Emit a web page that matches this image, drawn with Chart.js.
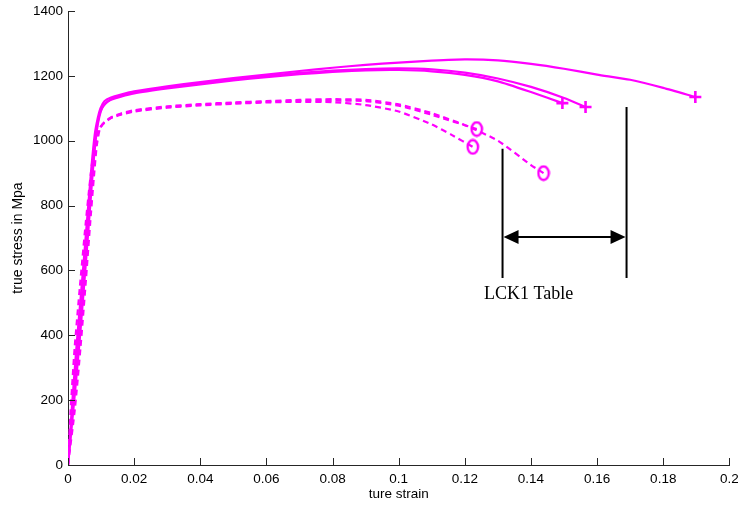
<!DOCTYPE html>
<html>
<head>
<meta charset="utf-8">
<script src="https://cdn.jsdelivr.net/npm/chart.js@4/dist/chart.umd.min.js"></script>
<style>
  html, body { margin: 0; padding: 0; background: #fff; }
  #wrap { width: 738px; height: 506px; }
</style>
</head>
<body>
<div id="wrap"><canvas id="chart" width="738" height="506"></canvas></div>
<script>
// solid curves (end marker +)
const s1Strain = [0, 0.0012, 0.0026, 0.0042, 0.0058, 0.0071, 0.0081, 0.009, 0.0098, 0.011, 0.013, 0.016, 0.02, 0.03, 0.04, 0.05, 0.06, 0.07, 0.08, 0.09, 0.1, 0.11, 0.12, 0.13, 0.14, 0.15, 0.16, 0.17, 0.18, 0.1897];
const s1Stress = [0, 180, 370, 560, 760, 920, 1020, 1070, 1100, 1122, 1133, 1142, 1152, 1168, 1181, 1193, 1204, 1215, 1225, 1234, 1241, 1247, 1251, 1248, 1237, 1222, 1204, 1188, 1163, 1135];
const s2Strain = [0, 0.0018, 0.0035, 0.005, 0.0065, 0.0077, 0.0087, 0.0095, 0.0103, 0.0115, 0.013, 0.016, 0.02, 0.03, 0.04, 0.05, 0.06, 0.07, 0.08, 0.09, 0.1, 0.11, 0.12, 0.13, 0.14, 0.15, 0.1565];
const s2Stress = [0, 190, 380, 570, 770, 930, 1030, 1075, 1100, 1117, 1128, 1139, 1149, 1164, 1177, 1190, 1200, 1209, 1216, 1221, 1223, 1220, 1210, 1192, 1166, 1132, 1104];
const s3Strain = [0, 0.0015, 0.003, 0.0046, 0.0062, 0.0075, 0.0085, 0.0093, 0.0101, 0.0113, 0.013, 0.016, 0.02, 0.03, 0.04, 0.05, 0.06, 0.07, 0.08, 0.09, 0.1, 0.11, 0.12, 0.13, 0.14, 0.1495];
const s3Stress = [0, 185, 375, 565, 765, 925, 1025, 1072, 1098, 1114, 1126, 1136, 1146, 1161, 1174, 1186, 1196, 1205, 1212, 1217, 1218, 1214, 1203, 1183, 1150, 1116];

// dashed curves (end marker o)
const d1Strain = [0, 0.0008, 0.002, 0.0036, 0.0053, 0.0067, 0.0079, 0.009, 0.0104, 0.0127, 0.016, 0.02, 0.03, 0.04, 0.05, 0.06, 0.07, 0.08, 0.09, 0.1, 0.11, 0.116, 0.1224];
const d1Stress = [0, 170, 360, 550, 740, 880, 980, 1030, 1050, 1068, 1080, 1090, 1102, 1109, 1114, 1118, 1120, 1119, 1110, 1090, 1050, 1018, 981];
const d2Strain = [0, 0.0021, 0.0038, 0.0053, 0.0067, 0.0078, 0.0087, 0.0096, 0.0108, 0.013, 0.016, 0.02, 0.03, 0.04, 0.05, 0.06, 0.07, 0.08, 0.09, 0.1, 0.11, 0.12, 0.13, 0.14, 0.1438];
const d2Stress = [0, 175, 365, 555, 745, 885, 985, 1035, 1055, 1072, 1084, 1094, 1106, 1113, 1118, 1122, 1126, 1128, 1126, 1112, 1085, 1048, 1000, 925, 900];
const d3Strain = [0, 0.0013, 0.0029, 0.0045, 0.0061, 0.0073, 0.0083, 0.0093, 0.0106, 0.0128, 0.016, 0.02, 0.03, 0.04, 0.05, 0.06, 0.07, 0.08, 0.09, 0.1, 0.11, 0.1236];
const d3Stress = [0, 172, 362, 552, 742, 882, 982, 1032, 1052, 1070, 1082, 1092, 1104, 1111, 1116, 1120, 1123, 1124, 1122, 1108, 1080, 1036];

// axis ticks
const xTickLabels = ['0', '0.02', '0.04', '0.06', '0.08', '0.1', '0.12', '0.14', '0.16', '0.18', '0.2'];
const yTickLabels = ['0', '200', '400', '600', '800', '1000', '1200', '1400'];

// LCK1 Table annotation (data units)
const tableStrain = [0.1314, 0.1689];
const tableTop = [975, 1104];
const tableBottom = 577;
const arrowStress = 703;
const labelStrain = 0.1393;
const labelStress = 527;

const magenta = '#ff00ff';
const axisColor = '#262626';
const tickFont = { family: 'Liberation Sans, Arial, sans-serif', size: 13.5 };

// matlab-like 'o' marker: a slightly tall ellipse
const ovalMarker = document.createElement('canvas');
ovalMarker.width = 14;
ovalMarker.height = 17;
(function () {
    const c = ovalMarker.getContext('2d');
    c.strokeStyle = magenta;
    c.lineWidth = 2.4;
    c.beginPath();
    c.ellipse(7, 8.5, 5.2, 6.7, 0, 0, Math.PI * 2);
    c.stroke();
})();

function curve(strain, stress, dashed, marker) {
    const pts = strain.map((x, i) => ({ x: x, y: stress[i] }));
    const last = pts.length - 1;
    return {
        data: pts,
        borderColor: magenta,
        borderWidth: 2.2,
        borderDash: dashed ? [6, 4] : [],
        pointStyle: marker,
        pointRadius: ctx => ctx.dataIndex === last ? 6 : 0,
        pointHoverRadius: 0,
        pointBorderColor: magenta,
        pointBackgroundColor: 'rgba(0,0,0,0)',
        pointBorderWidth: 2.6,
        tension: 0.2,
        fill: false
    };
}

// ticks drawn inside the axes, like the original
const inwardTicks = {
    id: 'inwardTicks',
    afterDraw(chart) {
        const { ctx, chartArea, scales: { x, y } } = chart;
        ctx.save();
        ctx.strokeStyle = axisColor;
        ctx.lineWidth = 1;
        ctx.beginPath();
        x.ticks.forEach(t => {
            const px = Math.round(x.getPixelForValue(t.value)) + 0.5;
            ctx.moveTo(px, chartArea.bottom);
            ctx.lineTo(px, chartArea.bottom - 7);
        });
        y.ticks.forEach(t => {
            const py = Math.round(y.getPixelForValue(t.value)) + 0.5;
            ctx.moveTo(chartArea.left, py);
            ctx.lineTo(chartArea.left + 7, py);
        });
        ctx.stroke();
        ctx.restore();
    }
};

const lckTable = {
    id: 'lckTable',
    afterDatasetsDraw(chart) {
        const { ctx, scales: { x, y } } = chart;
        const xl = x.getPixelForValue(tableStrain[0]);
        const xr = x.getPixelForValue(tableStrain[1]);
        const yb = y.getPixelForValue(tableBottom);
        const ya = y.getPixelForValue(arrowStress);
        ctx.save();
        ctx.strokeStyle = '#000';
        ctx.fillStyle = '#000';
        ctx.lineWidth = 2;
        ctx.beginPath();
        ctx.moveTo(xl, y.getPixelForValue(tableTop[0]));
        ctx.lineTo(xl, yb);
        ctx.moveTo(xr, y.getPixelForValue(tableTop[1]));
        ctx.lineTo(xr, yb);
        ctx.moveTo(xl + 10, ya);
        ctx.lineTo(xr - 10, ya);
        ctx.stroke();
        // arrow heads
        ctx.beginPath();
        ctx.moveTo(xl + 1, ya);
        ctx.lineTo(xl + 16, ya - 7);
        ctx.lineTo(xl + 16, ya + 7);
        ctx.closePath();
        ctx.moveTo(xr - 1, ya);
        ctx.lineTo(xr - 16, ya - 7);
        ctx.lineTo(xr - 16, ya + 7);
        ctx.closePath();
        ctx.fill();
        ctx.font = '18px "Liberation Serif", "Times New Roman", serif';
        ctx.textAlign = 'center';
        ctx.textBaseline = 'middle';
        ctx.fillText('LCK1 Table', x.getPixelForValue(labelStrain), y.getPixelForValue(labelStress));
        ctx.restore();
    }
};

new Chart(document.getElementById('chart'), {
    type: 'line',
    data: {
        datasets: [
            curve(s1Strain, s1Stress, false, 'cross'),
            curve(s2Strain, s2Stress, false, 'cross'),
            curve(s3Strain, s3Stress, false, 'cross'),
            curve(d1Strain, d1Stress, true, ovalMarker),
            curve(d2Strain, d2Stress, true, ovalMarker),
            curve(d3Strain, d3Stress, true, ovalMarker)
        ]
    },
    options: {
        responsive: false,
        animation: false,
        layout: { padding: { top: 11, right: 8, left: 0, bottom: 0 } },
        plugins: {
            legend: { display: false },
            tooltip: { enabled: false }
        },
        scales: {
            x: {
                type: 'linear',
                min: 0,
                max: 0.2,
                afterFit: scale => {
                    scale.height = 41;
                    scale.paddingLeft = 0;
                    scale.paddingRight = 0;
                },
                grid: { display: false, drawTicks: false },
                border: { display: true, color: axisColor, width: 1 },
                ticks: {
                    stepSize: 0.02,
                    padding: 6,
                    color: '#000',
                    font: tickFont,
                    maxRotation: 0,
                    autoSkip: false,
                    callback: (v, i) => xTickLabels[i]
                },
                title: {
                    display: true,
                    text: 'ture strain',
                    color: '#000',
                    font: tickFont,
                    padding: { top: 0, bottom: 4 }
                }
            },
            y: {
                min: 0,
                max: 1400,
                afterFit: scale => {
                    scale.width = 68;
                    scale.paddingTop = 0;
                    scale.paddingBottom = 0;
                },
                grid: { display: false, drawTicks: false },
                border: { display: true, color: axisColor, width: 1 },
                ticks: {
                    stepSize: 200,
                    padding: 5,
                    color: '#000',
                    font: tickFont,
                    callback: (v, i) => yTickLabels[i]
                },
                title: {
                    display: true,
                    text: 'true stress in Mpa',
                    color: '#000',
                    font: { family: tickFont.family, size: 14 },
                    padding: { top: 10, bottom: 0 }
                }
            }
        }
    },
    plugins: [inwardTicks, lckTable]
});
</script>
</body>
</html>
